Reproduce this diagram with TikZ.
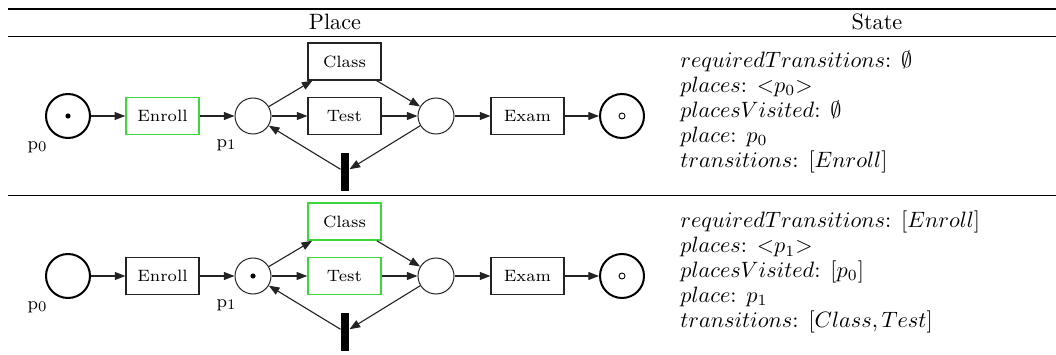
\documentclass[tikz,border=0pt]{standalone}
\usetikzlibrary{arrows.meta}
\definecolor{firegreen}{RGB}{60,215,60}
\definecolor{netgray}{RGB}{35,35,35}
\newcommand{\plabel}[1]{p\raisebox{-0.9pt}{\fontsize{6.6}{7}\selectfont #1}}
\begin{document}
\begin{tikzpicture}[x=0.45pt,y=-0.45pt,
    place/.style={circle,draw=netgray,line width=0.45pt,minimum size=16.2pt,inner sep=0pt},
    endplace/.style={circle,draw=black,line width=0.9pt,minimum size=19.8pt,inner sep=0pt},
    trans/.style={rectangle,draw=netgray,line width=0.5pt,minimum width=32.85pt,minimum height=16.65pt,inner sep=0pt,font=\fontsize{7.4}{8}\selectfont},
    fires/.style={trans,draw=firegreen,line width=0.7pt},
    bar/.style={rectangle,fill=black,minimum width=3.6pt,minimum height=17.1pt,inner sep=0pt},
    flow/.style={-{Triangle[length=4.8pt,width=3.6pt]},line width=0.5pt,draw=netgray},
    lbl/.style={font=\fontsize{8}{9}\selectfont,inner sep=0pt},
    state/.style={align=left,anchor=west,inner sep=0pt,font=\fontsize{10}{11.2}\selectfont}]
	\useasboundingbox (0,0) rectangle (1056,355);
	% table rules and head
	\draw[line width=0.9pt] (8,9.5) -- (1056,9.5);
	\draw[line width=0.55pt] (8,36.5) -- (1056,36.5);
	\draw[line width=0.55pt] (8,195.5) -- (1056,195.5);
	\node (hplace) at (335,22) {Place};
	\node (hstate) at (877,22) {State};
	% first row: token in p0
	\node[endplace] (pA0) at (68,116) {};
	\node[fires] (enA) at (162.5,116) {Enroll};
	\node[place] (pA1) at (253,116) {};
	\node[trans] (clA) at (344.5,61.5) {Class};
	\node[trans] (teA) at (344.5,116) {Test};
	\node[place] (pA2) at (436,116) {};
	\node[trans] (exA) at (527.5,116) {Exam};
	\node[endplace] (pA3) at (622,116) {};
	\node[bar] (brA) at (345,172) {};
	\node[lbl] (lA0) at (37,147) {\plabel{0}};
	\node[lbl] (lA1) at (226,145) {\plabel{1}};
	\fill (pA0) circle (2.6);
	\draw[line width=0.4pt] (pA3) circle (3);
	\draw[flow] (pA0) -- (enA);
	\draw[flow] (enA) -- (pA1);
	\draw[flow] (pA1) -- (clA);
	\draw[flow] (pA1) -- (teA);
	\draw[flow] (clA) -- (pA2);
	\draw[flow] (teA) -- (pA2);
	\draw[flow] (pA2) -- (exA);
	\draw[flow] (exA) -- (pA3);
	\draw[flow] (pA2) -- (brA);
	\draw[flow] (brA) -- (pA1);
	\node[state] (stA) at (680,112) {$requiredTransitions$: $\emptyset$\\
		$places$: ${<}p_0{>}$\\
		$placesVisited$: $\emptyset$\\
		$place$: $p_0$\\
		$transitions$: $[Enroll]$};
	% second row: token in p1
	\node[endplace] (pB0) at (68,276) {};
	\node[trans] (enB) at (162.5,276) {Enroll};
	\node[place] (pB1) at (253,276) {};
	\node[fires] (clB) at (344.5,221.5) {Class};
	\node[fires] (teB) at (344.5,276) {Test};
	\node[place] (pB2) at (436,276) {};
	\node[trans] (exB) at (527.5,276) {Exam};
	\node[endplace] (pB3) at (622,276) {};
	\node[bar] (brB) at (345,332) {};
	\node[lbl] (lB0) at (37,307) {\plabel{0}};
	\node[lbl] (lB1) at (226,305) {\plabel{1}};
	\fill (pB1) circle (2.6);
	\draw[line width=0.4pt] (pB3) circle (3);
	\draw[flow] (pB0) -- (enB);
	\draw[flow] (enB) -- (pB1);
	\draw[flow] (pB1) -- (clB);
	\draw[flow] (pB1) -- (teB);
	\draw[flow] (clB) -- (pB2);
	\draw[flow] (teB) -- (pB2);
	\draw[flow] (pB2) -- (exB);
	\draw[flow] (exB) -- (pB3);
	\draw[flow] (pB2) -- (brB);
	\draw[flow] (brB) -- (pB1);
	\node[state] (stB) at (680,272) {$requiredTransitions$: $[Enroll]$\\
		$places$: ${<}p_1{>}$\\
		$placesVisited$: $[p_0]$\\
		$place$: $p_1$\\
		$transitions$: $[Class, Test]$};
\end{tikzpicture}
\end{document}
